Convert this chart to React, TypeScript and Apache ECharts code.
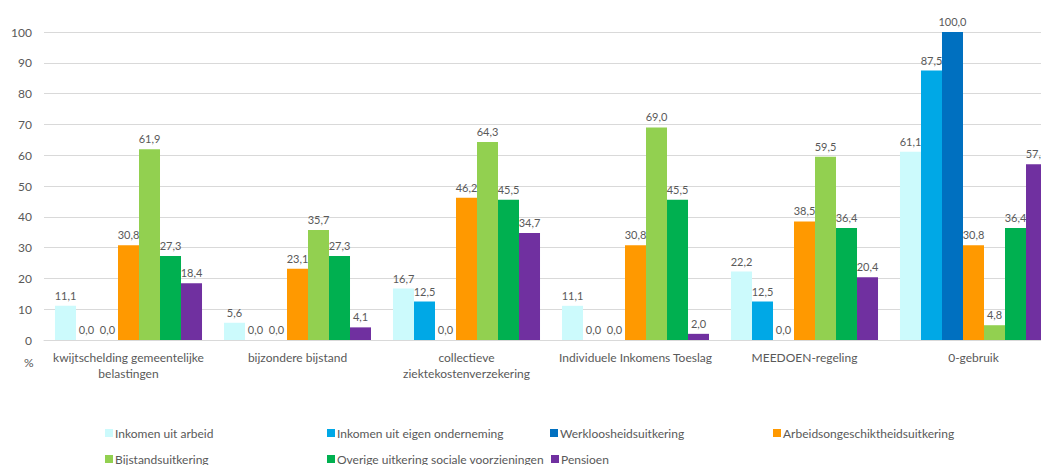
import React, { useEffect, useRef } from "react";
import * as echarts from "echarts";

const categories = [
  "kwijtschelding gemeentelijke\nbelastingen",
  "bijzondere bijstand",
  "collectieve\nziektekostenverzekering",
  "Individuele Inkomens Toeslag",
  "MEEDOEN-regeling",
  "0-gebruik",
];

const seriesNames = [
  "Inkomen uit arbeid",
  "Inkomen uit eigen onderneming",
  "Werkloosheidsuitkering",
  "Arbeidsongeschiktheidsuitkering",
  "Bijstandsuitkering",
  "Overige uitkering sociale voorzieningen",
  "Pensioen",
];

const inkomenArbeid = [11.1, 5.6, 16.7, 11.1, 22.2, 61.1];
const eigenOnderneming = [0.0, 0.0, 12.5, 0.0, 12.5, 87.5];
const werkloosheid = [0.0, 0.0, 0.0, 0.0, 0.0, 100.0];
const arbeidsongeschikt = [30.8, 23.1, 46.2, 30.8, 38.5, 30.8];
const bijstand = [61.9, 35.7, 64.3, 69.0, 59.5, 4.8];
const overige = [27.3, 27.3, 45.5, 45.5, 36.4, 36.4];
const pensioen = [18.4, 4.1, 34.7, 2.0, 20.4, 57.1];

const seriesData = [
  inkomenArbeid,
  eigenOnderneming,
  werkloosheid,
  arbeidsongeschikt,
  bijstand,
  overige,
  pensioen,
];

const colors = [
  "#CCFAFC",
  "#00A8E6",
  "#0070C0",
  "#FF9900",
  "#92D050",
  "#00B050",
  "#7030A0",
];

const legendPos = [
  { left: 105, top: 427 },
  { left: 327, top: 427 },
  { left: 550, top: 427 },
  { left: 773, top: 427 },
  { left: 105, top: 453 },
  { left: 327, top: 453 },
  { left: 551, top: 453 },
];

const FONT = "Lato, 'Noto Sans', sans-serif";
const GRAY = "#595959";

export default function App() {
  const ref = useRef<HTMLDivElement>(null);

  useEffect(() => {
    if (!ref.current) return;
    const chart = echarts.init(ref.current, undefined, { renderer: "svg" });
    chart.setOption({
      animation: false,
      backgroundColor: "#ffffff",
      textStyle: { fontFamily: FONT },
      color: colors,
      grid: { left: 44, right: 42, top: 32, bottom: 125, containLabel: false },
      legend: seriesNames.map((name, i) => ({
        data: [name],
        left: legendPos[i].left,
        top: legendPos[i].top,
        itemWidth: 8,
        itemHeight: 8,
        icon: "rect",
        padding: 0,
        textStyle: { color: GRAY, fontSize: 12, fontFamily: FONT, padding: [0, 0, 0, -3] },
        selectedMode: false,
      })),
      xAxis: {
        type: "category",
        data: categories,
        axisLine: { show: true, lineStyle: { color: "#D9D9D9", width: 1 } },
        axisTick: { show: false },
        axisLabel: {
          color: GRAY,
          fontSize: 12,
          fontFamily: FONT,
          margin: 9,
          lineHeight: 16,
          interval: 0,
        },
      },
      yAxis: {
        type: "value",
        min: 0,
        max: 100,
        interval: 10,
        axisLine: { show: false },
        axisTick: { show: false },
        splitLine: { lineStyle: { color: "#D9D9D9", width: 1 } },
        axisLabel: { color: GRAY, fontSize: 12, fontFamily: FONT, margin: 12 },
      },
      graphic: [
        {
          type: "text",
          left: 24,
          top: 356,
          style: { text: "%", fill: GRAY, fontSize: 12, fontFamily: FONT },
        },
      ],
      series: seriesNames.map((name, i) => ({
        name,
        type: "bar",
        data: seriesData[i],
        barGap: "0%",
        barCategoryGap: "13%",
        itemStyle: { color: colors[i] },
        label: {
          show: true,
          position: "top",
          distance: 5,
          color: GRAY,
          fontSize: 11,
          fontFamily: FONT,
          formatter: (p: any) => Number(p.value).toFixed(1).replace(".", ","),
        },
      })),
    });
    return () => chart.dispose();
  }, []);

  return (
    <div
      style={{
        position: "fixed",
        left: 0,
        top: 0,
        width: 1041,
        height: 465,
        overflow: "hidden",
        background: "#fff",
      }}
    >
      <div ref={ref} style={{ width: 1100, height: 465 }} />
    </div>
  );
}
